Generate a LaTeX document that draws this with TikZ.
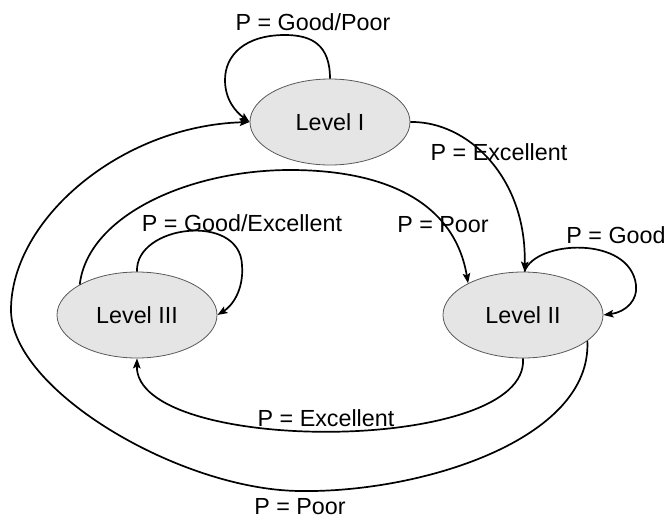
\documentclass[tikz,border=0pt]{standalone}
\usepackage{fontspec}
\setmainfont{Liberation Sans}
\usetikzlibrary{arrows.meta,shapes.geometric}

\tikzset{
  level/.style={ellipse, draw=black!65, line width=0.8pt, fill=black!10,
    minimum width=160pt, minimum height=86pt, inner sep=0pt,
    font=\fontsize{23.3}{27}\selectfont},
  lbl/.style={inner sep=0pt, font=\fontsize{23.3}{27}\selectfont},
  trans/.style={line width=1.7pt, -{Stealth[length=10pt,width=7.5pt,inset=2pt]}},
}

\begin{document}
\begin{tikzpicture}[x=1pt,y=-1pt]
  \useasboundingbox (0,0) rectangle (670,520);

  % states
  \node[level] (L1) at (330,122) {Level I};
  \node[level] (L3) at (137,315) {Level III};
  \node[level] (L2) at (523,315) {Level II};

  % Level I stays at Level I
  \draw[trans] (L1.north) .. controls (330,45) and (312,35) .. (285,35)
    .. controls (245,35) and (225,55) .. (225,80)
    .. controls (225,100) and (236,112) .. (L1.west);
  \node[lbl] (tGP) at (313,22) {P = Good/Poor};

  % Level I to Level II
  \draw[trans] (L1.east) .. controls (468,121) and (527,178) .. (L2.88);
  \node[lbl] (tEx1) at (499,152) {P = Excellent};

  % Level II stays at Level II
  \draw[trans] (L2.88) .. controls (535,240) and (630,235) .. (636,285)
    .. controls (638,300) and (626,312) .. (L2.east);
  \node[lbl] (tG) at (616,235) {P = Good};

  % Level III to Level II
  \draw[trans] (L3.152) .. controls (88,215) and (190,170) .. (290,170)
    .. controls (390,170) and (455,205) .. (L2.150);
  \node[lbl] (tP1) at (443,225) {P = Poor};

  % Level III stays at Level III
  \draw[trans] (L3.north) .. controls (135,225) and (240,212) .. (242,265)
    .. controls (244,290) and (232,306) .. (L3.east);
  \node[lbl] (tGE) at (242,223) {P = Good/Excellent};

  % Level II to Level III
  \draw[trans] (L2.south) .. controls (530,455) and (135,455) .. (L3.south);
  \node[lbl] (tEx2) at (326,418) {P = Excellent};

  % Level II back to Level I
  \draw[trans] (L2.-22) .. controls (592,440) and (420,493) .. (300,491)
    .. controls (180,490) and (11,390) .. (11,310)
    .. controls (11,220) and (120,126) .. (L1.west);
  \node[lbl] (tP2) at (300,507) {P = Poor};
\end{tikzpicture}
\end{document}
